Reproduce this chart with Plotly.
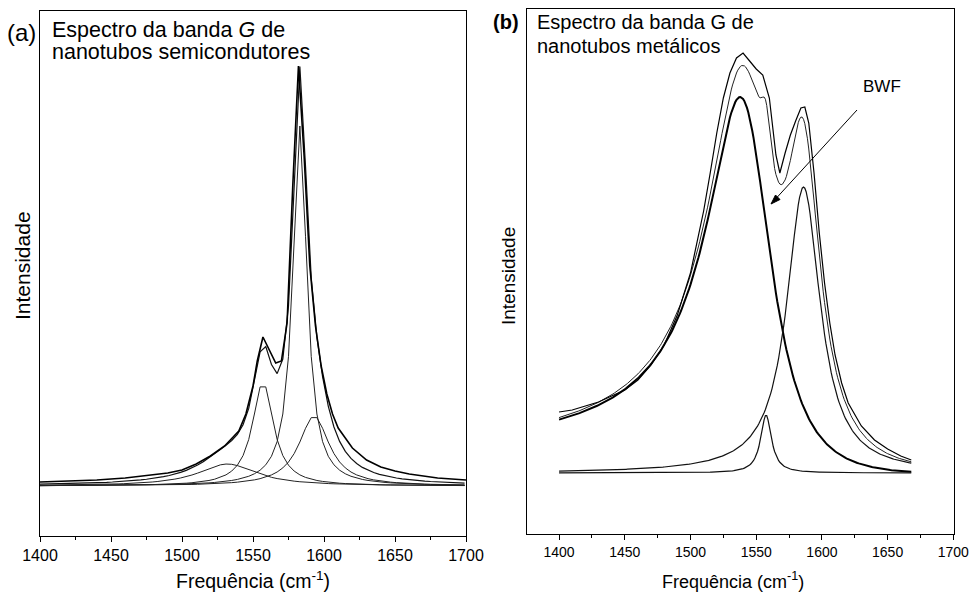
import numpy as np
import plotly.graph_objects as go

# ---------------- (a) semiconducting tubes: Lorentzian components ----------------
a_centers = [1583, 1557, 1593, 1532]      # cm^-1
a_fwhm = [12, 18, 26, 50]                 # cm^-1
a_heights = [360, 104, 70, 22]            # arb. units

# measured spectrum (a)
a_meas_x = [1400, 1420, 1440, 1460, 1480, 1490, 1500, 1510, 1520, 1530, 1540, 1545,
            1550, 1553, 1557, 1562, 1566, 1570, 1574, 1578, 1582, 1586, 1590, 1594,
            1598, 1602, 1606, 1610, 1620, 1630, 1640, 1650, 1660, 1680, 1700]
a_meas_y = [4, 5, 6, 8, 11, 13, 16, 22, 30, 40, 55, 72,
            100, 125, 149, 135, 123, 125, 163, 300, 420, 330, 220, 160,
            120, 92, 72, 58, 38, 26, 19, 15, 12, 8, 6]

# ---------------- (b) metallic tubes: BWF + Lorentzians ----------------
bwf_center = 1543.25
bwf_gamma = 30.0
bwf_q = -5.5
bwf_amp = 364.0

b_centers = [1586, 1557.5]
b_fwhm = [31, 10]
b_heights = [286, 58]

# measured spectrum (b)
b_meas_x = [1400, 1410, 1420, 1430, 1440, 1450, 1460, 1470, 1480, 1490, 1500, 1510,
            1515, 1520, 1525, 1530, 1535, 1540, 1545, 1550, 1555, 1560, 1565, 1568,
            1572, 1576, 1580, 1584, 1587, 1590, 1594, 1598, 1602, 1606, 1610, 1615,
            1620, 1630, 1640, 1650, 1660, 1668]
b_meas_y = [61, 63, 67, 71, 77, 83, 93, 108, 128, 158, 200, 262,
            300, 340, 375, 400, 415, 420, 412, 404, 398, 375, 318, 300,
            320, 338, 352, 365, 366, 350, 300, 240, 190, 150, 118, 90,
            70, 47, 33, 24, 17, 13]


def lorentz(w, c, fwhm, h):
    g = fwhm / 2.0
    return h * g * g / (g * g + (w - c) ** 2)


def bwf(w, c, gamma, q, amp):
    x = (w - c) / gamma
    return amp * (1 + x / q) ** 2 / (1 + x * x)


W, H = 971, 596
FONT = "Liberation Sans, Arial, sans-serif"

fig = go.Figure()

# panel (a)
wa = np.arange(1399, 1701, 4.0)
a_comps = [lorentz(wa, c, f, h) for c, f, h in zip(a_centers, a_fwhm, a_heights)]
for comp in a_comps:
    fig.add_trace(go.Scatter(x=wa, y=comp, mode="lines", line=dict(color="#222", width=1),
                             xaxis="x", yaxis="y", showlegend=False, hoverinfo="skip"))
fig.add_trace(go.Scatter(x=wa, y=np.sum(a_comps, axis=0), mode="lines",
                         line=dict(color="#111", width=1.2), xaxis="x", yaxis="y",
                         showlegend=False))
fig.add_trace(go.Scatter(x=a_meas_x, y=a_meas_y, mode="lines",
                         line=dict(color="#000", width=1.6), xaxis="x", yaxis="y",
                         showlegend=False))

# panel (b)
wb = np.arange(1400, 1668.5, 1.0)
b_bwf_curve = bwf(wb, bwf_center, bwf_gamma, bwf_q, bwf_amp)
b_comps = [lorentz(wb, c, f, h) for c, f, h in zip(b_centers, b_fwhm, b_heights)]
fig.add_trace(go.Scatter(x=wb, y=b_bwf_curve, mode="lines", line=dict(color="#000", width=2),
                         xaxis="x2", yaxis="y2", showlegend=False))
for comp in b_comps:
    fig.add_trace(go.Scatter(x=wb, y=comp, mode="lines", line=dict(color="#111", width=1.2),
                             xaxis="x2", yaxis="y2", showlegend=False))
fig.add_trace(go.Scatter(x=wb, y=b_bwf_curve + np.sum(b_comps, axis=0), mode="lines",
                         line=dict(color="#222", width=1), xaxis="x2", yaxis="y2",
                         showlegend=False))
fig.add_trace(go.Scatter(x=b_meas_x, y=b_meas_y, mode="lines",
                         line=dict(color="#000", width=1.2), xaxis="x2", yaxis="y2",
                         showlegend=False))


def px(x):
    return x / W


def py(y):
    return 1 - y / H


def xaxis_style(size):
    return dict(showline=True, linecolor="black", linewidth=1, mirror=True,
                showgrid=False, zeroline=False, ticks="outside", ticklen=5,
                tickcolor="black", tickfont=dict(family=FONT, size=size, color="black"),
                dtick=50, tick0=1400, automargin=False,
                minor=dict(dtick=25, ticks="outside", ticklen=3, tickcolor="black",
                           showgrid=False))


yaxis_style = dict(showline=True, linecolor="black", linewidth=1, mirror=True,
                   showgrid=False, zeroline=False, showticklabels=False, ticks="",
                   automargin=False)

fig.update_layout(
    width=W, height=H, margin=dict(l=0, r=0, t=0, b=0, pad=0),
    paper_bgcolor="white", plot_bgcolor="white",
    xaxis=dict(domain=[px(40), px(466)], range=[1400, 1700], anchor="y", **xaxis_style(16)),
    yaxis=dict(domain=[py(536), py(11)], range=[-50, 475], anchor="x", **yaxis_style),
    xaxis2=dict(domain=[px(527), px(954)], range=[1375.6, 1700.5], anchor="y2",
                **xaxis_style(14)),
    yaxis2=dict(domain=[py(534), py(9)], range=[-61, 464], anchor="x2", **yaxis_style),
)

ann = []


def text(x, y, s, size, xanchor="left", yanchor="middle", angle=0):
    ann.append(dict(x=px(x), y=py(y), xref="paper", yref="paper", text=s, showarrow=False,
                    xanchor=xanchor, yanchor=yanchor, textangle=angle,
                    font=dict(family=FONT, size=size, color="black")))


text(5, 33, "(a)", 24)
text(50, 30, "Espectro da banda <i>G</i> de", 21.5)
text(50, 52, "nanotubos semicondutores", 21.5)
text(491, 22, "<b>(b)</b>", 20)
text(535, 22, "Espectro da banda G de", 20)
text(535, 46, "nanotubos metálicos", 20)
text(861, 87, "BWF", 17)
text(22, 266, "Intensidade", 21, xanchor="center", angle=-90)
text(508, 276, "Intensidade", 19, xanchor="center", angle=-90)
text(253, 580, "Frequência (cm<sup>-1</sup>)", 19.5, xanchor="center")
text(733, 580, "Frequência (cm<sup>-1</sup>)", 18, xanchor="center")
fig.update_layout(annotations=ann)

# arrow pointing at the BWF component
tail = (857, 110)
head = (771, 204)
fig.add_shape(type="line", xref="paper", yref="paper",
              x0=px(tail[0]), y0=py(tail[1]), x1=px(head[0] + 3), y1=py(head[1] - 3.3),
              line=dict(color="black", width=1))
fig.add_shape(type="path", xref="paper", yref="paper",
              path=(f"M {px(head[0])} {py(head[1])} "
                    f"L {px(head[0] + 4.5)} {py(head[1] - 9)} "
                    f"L {px(head[0] + 9)} {py(head[1] - 4.5)} Z"),
              fillcolor="black", line=dict(color="black", width=1))

fig.write_html("out.html")
